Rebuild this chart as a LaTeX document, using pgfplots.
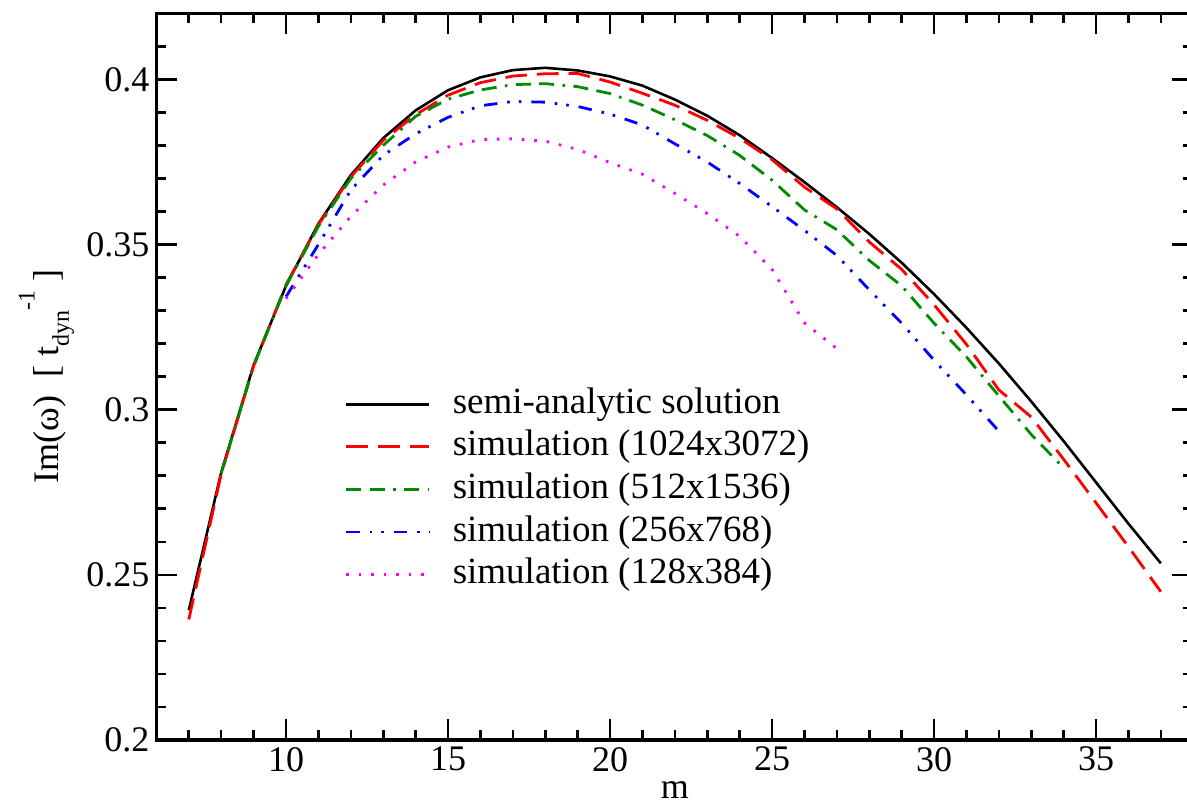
\documentclass[border=0pt]{standalone}
\usepackage{fontspec}
\setmainfont{Liberation Serif}
\usepackage{pgfplots}
\usepackage{pgfplotstable}
\pgfplotsset{compat=1.18}
\definecolor{xgreen}{RGB}{0,140,0}
\definecolor{xmag}{RGB}{255,0,255}

\pgfplotstableread{
m v
7 0.2393
8 0.2810
9 0.3135
10 0.3375
11 0.3563
12 0.3710
13 0.3822
14 0.3906
15 0.3967
16 0.4006
17 0.4028
18 0.4035
19 0.4027
20 0.4009
21 0.3981
22 0.3939
23 0.3890
24 0.3831
25 0.3762
26 0.3689
27 0.3613
28 0.3532
29 0.3445
30 0.3350
31 0.3248
32 0.3140
33 0.3025
34 0.2905
35 0.2780
36 0.2655
37 0.2535
}\semi

\pgfplotstableread{
m v
7 0.2365
8 0.2805
9 0.3132
10 0.3378
11 0.3560
12 0.3705
13 0.3815
14 0.3893
15 0.3952
16 0.3990
17 0.4010
18 0.4017
19 0.4018
20 0.3992
21 0.3958
22 0.3922
23 0.3876
24 0.3822
25 0.3757
26 0.3674
27 0.3608
28 0.3508
29 0.3425
30 0.3318
31 0.3198
32 0.3060
33 0.2978
34 0.2850
35 0.2718
36 0.2585
37 0.2449
}\simA

\pgfplotstableread{
m v
8 0.2807
9 0.3132
10 0.3375
11 0.3555
12 0.3700
13 0.3800
14 0.3888
15 0.3940
16 0.3968
17 0.3984
18 0.3987
19 0.3978
20 0.3957
21 0.3922
22 0.3878
23 0.3830
24 0.3770
25 0.3695
26 0.3605
27 0.3545
28 0.3452
29 0.3375
30 0.3262
31 0.3160
32 0.3042
33 0.2925
34 0.2824
}\simB

\pgfplotstableread{
m v
10 0.3342
11 0.3500
12 0.3665
13 0.3770
14 0.3835
15 0.3885
16 0.3920
17 0.3933
18 0.3931
19 0.3918
20 0.3895
21 0.3862
22 0.3805
23 0.3750
24 0.3685
25 0.3615
26 0.3543
27 0.3467
28 0.3363
29 0.3262
30 0.3150
31 0.3045
32 0.2935
}\simC

\pgfplotstableread{
m v
10 0.3336
11 0.3470
12 0.3585
13 0.3680
14 0.3750
15 0.3795
16 0.3818
17 0.3820
18 0.3813
19 0.3788
20 0.3748
21 0.3713
22 0.3655
23 0.3594
24 0.3525
25 0.3425
26 0.3263
27 0.3185
}\simD

\begin{document}
\begin{tikzpicture}
\begin{axis}[
  scale only axis, width=518.4pt, height=363.35pt,
  at={(0,0)}, anchor=south west,
  xmin=6, xmax=38, ymin=0.2, ymax=0.42,
  xtick={10,15,20,25,30,35}, xticklabels={10,15,20,25,30,35},
  minor xtick={6,7,8,9,11,12,13,14,16,17,18,19,21,22,23,24,26,27,28,29,31,32,33,34,36,37,38},
  ytick={0.2,0.25,0.3,0.35,0.4}, yticklabels={0.2,0.25,0.3,0.35,0.4},
  minor ytick={0.21,0.22,0.23,0.24,0.26,0.27,0.28,0.29,0.31,0.32,0.33,0.34,0.36,0.37,0.38,0.39,0.41,0.42},
  major tick length=10.5pt, minor tick length=5pt,
  every tick/.append style={black, line width=1.3pt},
  axis line style={line width=1.6pt},
  tick label style={font=\fontsize{18}{21.6}\selectfont},
  label style={font=\fontsize{18}{21.6}\selectfont},
  xlabel={m},
  xlabel style={at={(axis description cs:0.5,-0.069)}, anchor=center},
  ylabel={Im(ω) \ [ t\raisebox{-0.3em}{\fontsize{12}{12}\selectfont dyn}\raisebox{0.65em}{\fontsize{12}{12}\selectfont -1} ]},
  ylabel style={at={(axis description cs:-0.106,0.5)}, anchor=center},
  legend style={draw=none, fill=none, at={(axis cs:11.82,0.3068)}, anchor=north west,
    inner sep=0pt, outer sep=0pt, row sep=4.3pt, column sep=11pt,
    font=\fontsize{18.5}{22}\selectfont,
    nodes={inner sep=0pt, text height=13pt, text depth=4pt}},
  legend cell align=left,
  legend image code/.code={\draw[#1] (0pt,0pt) -- (41.5pt,0pt);},
]
\addplot[black, line width=1.3pt] table[x=m,y=v] {\semi};
\addlegendentry{semi-analytic solution}
\addplot[red, line width=1.4pt, dash pattern=on 10.8pt off 5pt] table[x=m,y=v] {\simA};
\addlegendentry{simulation (1024x3072)}
\addplot[xgreen, line width=1.4pt, dash pattern=on 7.5pt off 4.2pt on 7.5pt off 4.2pt on 1.3pt off 4.2pt] table[x=m,y=v] {\simB};
\addlegendentry{simulation (512x1536)}
\addplot[blue, line width=1.4pt, dash pattern=on 6.7pt off 5pt on 1.3pt off 4.5pt on 1.3pt off 5pt] table[x=m,y=v] {\simC};
\addlegendentry{simulation (256x768)}
\addplot[xmag, line width=1.4pt, dash pattern=on 1.3pt off 4.95pt] table[x=m,y=v] {\simD};
\addlegendentry{simulation (128x384)}
\end{axis}
\pgfresetboundingbox
\path (-78.2pt,-32.5pt) rectangle (515.3pt,370pt);
\end{tikzpicture}
\end{document}
